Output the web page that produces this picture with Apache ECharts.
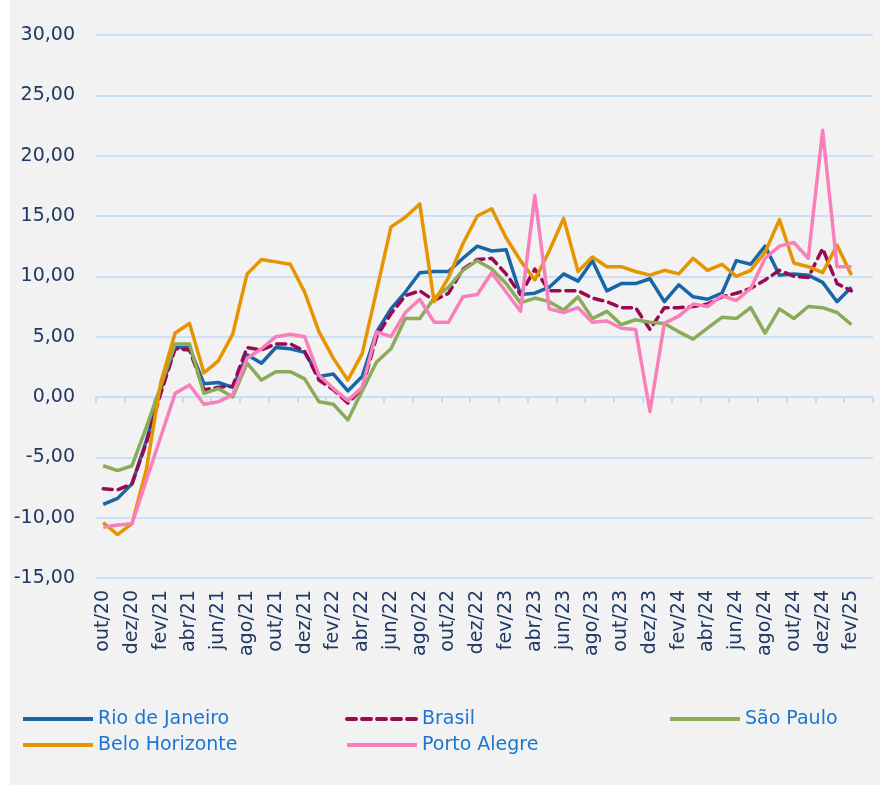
<!DOCTYPE html>
<html>
<head>
<meta charset="utf-8">
<script src="https://cdn.jsdelivr.net/npm/echarts@6/dist/echarts.min.js"></script>
<style>
html, body { margin: 0; padding: 0; background: #fff; }
#chart { width: 890px; height: 785px; }
</style>
</head>
<body>
<div id="chart"></div>
<script>
// meses (o último fica vazio, como no gráfico original)
const months = [
    'out/20', 'nov/20', 'dez/20',
    'jan/21', 'fev/21', 'mar/21', 'abr/21', 'mai/21', 'jun/21', 'jul/21', 'ago/21', 'set/21', 'out/21', 'nov/21', 'dez/21',
    'jan/22', 'fev/22', 'mar/22', 'abr/22', 'mai/22', 'jun/22', 'jul/22', 'ago/22', 'set/22', 'out/22', 'nov/22', 'dez/22',
    'jan/23', 'fev/23', 'mar/23', 'abr/23', 'mai/23', 'jun/23', 'jul/23', 'ago/23', 'set/23', 'out/23', 'nov/23', 'dez/23',
    'jan/24', 'fev/24', 'mar/24', 'abr/24', 'mai/24', 'jun/24', 'jul/24', 'ago/24', 'set/24', 'out/24', 'nov/24', 'dez/24',
    'jan/25', 'fev/25', 'mar/25'
]

const rioDeJaneiro = [
    -8.9, -8.4, -7.2, -3.6, 0.6, 4.1, 4.1, 1.1, 1.2, 0.8, 3.5, 2.8, 4.1, 4.0, 3.7,
    1.7, 1.9, 0.5, 1.7, 5.4, 7.3, 8.7, 10.3, 10.4, 10.4, 11.5, 12.5,
    12.1, 12.2, 8.5, 8.6, 9.1, 10.2, 9.6, 11.3, 8.8, 9.4, 9.4, 9.8,
    7.9, 9.3, 8.3, 8.1, 8.6, 11.3, 11.0, 12.5, 10.1, 10.2, 10.1, 9.5,
    7.9, 9.1
]
const brasil = [
    -7.6, -7.7, -7.2, -3.8, 0.3, 4.0, 3.9, 0.6, 0.8, 0.9, 4.1, 3.9, 4.4, 4.4, 3.8,
    1.4, 0.6, -0.5, 0.7, 5.0, 6.9, 8.4, 8.8, 8.0, 8.6, 10.6, 11.4,
    11.5, 10.2, 8.5, 10.6, 8.8, 8.8, 8.8, 8.2, 7.9, 7.4, 7.4, 5.6,
    7.4, 7.4, 7.5, 7.7, 8.3, 8.6, 9.0, 9.7, 10.5, 10.0, 9.9, 12.3,
    9.4, 8.8
]
const saoPaulo = [
    -5.7, -6.1, -5.7, -2.5, 0.9, 4.4, 4.4, 0.3, 0.7, 0.0, 2.8, 1.4, 2.1, 2.1, 1.5,
    -0.4, -0.6, -1.9, 0.5, 2.9, 4.0, 6.5, 6.5, 8.2, 9.1, 10.5, 11.3,
    10.6, 9.4, 7.8, 8.2, 7.9, 7.2, 8.3, 6.5, 7.1, 6.0, 6.4, 6.2,
    6.1, 5.4, 4.8, 5.7, 6.6, 6.5, 7.4, 5.3, 7.3, 6.5, 7.5, 7.4,
    7.0, 6.0
]
const beloHorizonte = [
    -10.4, -11.4, -10.5, -6.0, 1.2, 5.3, 6.1, 2.0, 3.0, 5.2, 10.2, 11.4, 11.2, 11.0, 8.7,
    5.4, 3.2, 1.4, 3.6, 8.8, 14.1, 14.9, 16.0, 7.9, 9.9, 12.7, 15.0,
    15.6, 13.2, 11.3, 9.7, 12.1, 14.8, 10.4, 11.6, 10.8, 10.8, 10.4, 10.1,
    10.5, 10.2, 11.5, 10.5, 11.0, 10.0, 10.5, 12.0, 14.7, 11.1, 10.8, 10.3,
    12.6, 10.1
]
const portoAlegre = [
    -10.8, -10.6, -10.5, -6.9, -3.3, 0.3, 1.0, -0.6, -0.4, 0.2, 3.2, 4.0, 5.0, 5.2, 5.0,
    1.8, 0.7, -0.3, 0.8, 5.4, 5.0, 7.0, 8.1, 6.2, 6.2, 8.3, 8.5,
    10.3, 8.7, 7.1, 16.7, 7.3, 7.0, 7.4, 6.2, 6.3, 5.7, 5.6, -1.2,
    6.1, 6.7, 7.7, 7.5, 8.4, 8.0, 9.0, 11.5, 12.5, 12.8, 11.5, 22.1,
    10.8, 10.8
]

const navy = '#1f3864'
const font = 'DejaVu Sans'

function makeSeries(name, data, color, dashed) {
    return {
        name: name,
        type: 'line',
        data: data,
        symbol: 'none',
        smooth: false,
        lineStyle: {
            color: color,
            width: 3.5,
            type: dashed ? [9, 6] : 'solid',
            cap: dashed ? 'round' : 'butt',
            join: 'round'
        },
        itemStyle: { color: color }
    }
}

// uma legenda por item, para reproduzir as colunas do original
function makeLegend(name, left, top) {
    return {
        data: [name],
        left: left,
        top: top,
        padding: 0,
        itemWidth: 70,
        itemHeight: 14,
        itemStyle: { opacity: 0 },
        lineStyle: { width: 4 },
        textStyle: { color: '#1a76d2', fontSize: 19, fontFamily: font, lineHeight: 20 }
    }
}

const chart = echarts.init(document.getElementById('chart'), null, { renderer: 'canvas' })

const option = {
    animation: false,
    backgroundColor: '#ffffff',
    graphic: [{
        type: 'rect',
        left: 10,
        top: 0,
        shape: { width: 870, height: 785 },
        style: { fill: '#f2f2f2' },
        z: -10
    }],
    grid: {
        left: 96,
        right: 17,
        top: 35,
        bottom: 207,
        containLabel: false
    },
    legend: [
        makeLegend('Rio de Janeiro', 21, 709),
        makeLegend('Brasil', 345, 709),
        makeLegend('São Paulo', 668, 709),
        makeLegend('Belo Horizonte', 21, 735),
        makeLegend('Porto Alegre', 345, 735)
    ],
    xAxis: [{
        type: 'category',
        data: months,
        boundaryGap: true,
        position: 'bottom',
        axisLine: { show: false, onZero: false },
        axisTick: { show: false },
        axisLabel: {
            interval: 1,
            rotate: 90,
            margin: 12,
            color: navy,
            fontSize: 19,
            fontFamily: font
        }
    }, {
        type: 'category',
        data: months,
        boundaryGap: true,
        position: 'bottom',
        axisLine: { show: true, onZero: true, lineStyle: { color: '#c6dcf4', width: 2 } },
        axisTick: { show: true, interval: 1, length: 6, lineStyle: { color: '#c6dcf4', width: 2 } },
        axisLabel: { show: false }
    }],
    yAxis: {
        type: 'value',
        min: -15,
        max: 30,
        interval: 5,
        axisLine: { show: false },
        axisTick: { show: false },
        splitLine: { lineStyle: { color: '#c9e0f8', width: 2 } },
        axisLabel: {
            margin: 21,
            color: navy,
            fontSize: 19,
            fontFamily: font,
            formatter: v => v.toFixed(2).replace('.', ',')
        }
    },
    series: [
        makeSeries('Rio de Janeiro', rioDeJaneiro, '#1766aa', false),
        makeSeries('Brasil', brasil, '#9a0a52', true),
        makeSeries('São Paulo', saoPaulo, '#8aab58', false),
        makeSeries('Belo Horizonte', beloHorizonte, '#e69400', false),
        makeSeries('Porto Alegre', portoAlegre, '#f87fba', false)
    ]
}

chart.setOption(option)
</script>
</body>
</html>
